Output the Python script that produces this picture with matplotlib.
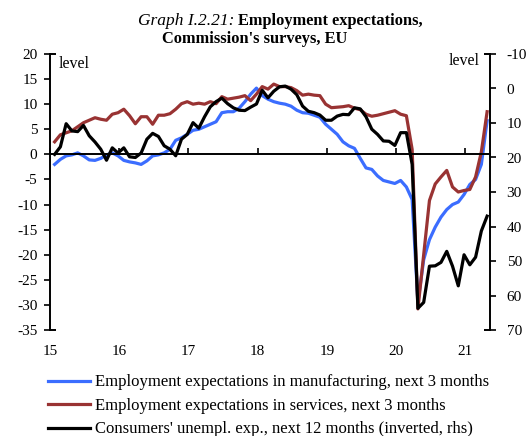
import numpy as np
import matplotlib
matplotlib.use("Agg")
import matplotlib.pyplot as plt
from matplotlib.ticker import FuncFormatter

plt.rcParams['font.family'] = ['Liberation Serif', 'DejaVu Serif']

# Monthly data Jan 2015 - Apr 2021
manufacturing = [-2.0, -1.0, -0.3, -0.1, 0.3, -0.3, -1.1, -1.2, -0.8, -0.1, 0.3, -0.3,
                 -1.2, -1.5, -1.7, -2.0, -1.3, -0.3, -0.1, 0.3, 1.0, 2.8, 3.3, 4.0,
                 4.8, 5.0, 5.5, 6.0, 6.5, 8.3, 8.5, 8.5, 9.2, 10.5, 12.0, 13.2,
                 11.7, 11.0, 10.5, 10.2, 10.0, 9.6, 8.8, 8.3, 8.2, 7.8, 7.4, 6.0,
                 5.0, 4.0, 2.5, 1.7, 1.2, -0.8, -2.7, -3.0, -4.3, -5.2, -5.5, -5.8,
                 -5.2, -6.5, -9.0, -29.5, -21.0, -17.0, -14.5, -12.5, -11.0, -10.0, -9.5, -8.0,
                 -6.0, -5.0, -2.0, 6.7]
services = [2.5, 3.9, 4.3, 4.7, 5.5, 6.3, 6.8, 7.3, 7.0, 6.8, 8.0, 8.3,
            9.0, 7.7, 6.1, 7.5, 7.5, 6.0, 7.8, 7.8, 8.1, 9.0, 10.1, 10.5,
            10.0, 10.2, 10.0, 10.5, 10.1, 11.5, 11.0, 11.2, 11.4, 11.7, 10.7, 12.0,
            13.5, 13.0, 14.0, 13.5, 13.5, 13.3, 12.7, 11.8, 12.0, 11.8, 11.7, 10.0,
            9.3, 9.4, 9.5, 9.7, 9.2, 8.9, 8.0, 7.6, 7.8, 8.1, 8.4, 8.7,
            8.0, 7.7, 1.0, -30.8, -20.0, -9.2, -5.9, -4.5, -3.2, -6.5, -7.5, -7.2,
            -7.0, -4.5, 0.5, 8.5]
consumers = [19.1, 16.9, 10.2, 12.3, 12.5, 10.7, 13.7, 15.5, 17.6, 20.8, 17.2, 18.7,
             17.2, 19.8, 20.0, 18.7, 14.7, 13.0, 13.9, 16.6, 17.6, 19.5, 14.7, 13.3,
             9.9, 11.5, 8.2, 5.3, 3.8, 2.8, 4.4, 5.6, 6.3, 6.4, 5.4, 4.5,
             0.5, 2.7, 0.8, -0.5, -0.7, 0.2, 1.8, 5.1, 6.6, 7.0, 7.7, 9.2,
             9.2, 8.0, 7.5, 7.6, 5.6, 5.9, 8.2, 11.8, 13.3, 15.2, 15.3, 16.5,
             12.8, 12.8, 22.0, 63.7, 62.0, 51.5, 51.4, 50.4, 47.2, 51.5, 57.2, 48.2,
             51.1, 48.9, 41.3, 37.0]
year_labels = ['15', '16', '17', '18', '19', '20', '21']

labels = ['Employment expectations in manufacturing, next 3 months',
          'Employment expectations in services, next 3 months',
          "Consumers' unempl. exp., next 12 months (inverted, rhs)"]
c_blue = '#3b6dff'
c_red = '#993333'
c_black = '#000000'

W, H = 531, 436
fig = plt.figure(figsize=(W / 100, H / 100), dpi=100)
ax = fig.add_axes([50 / W, 1 - 330 / H, 440 / W, 276 / H])
ax2 = ax.twinx()

n = len(manufacturing)
x = np.arange(n) + 0.8

l1, = ax.plot(x, manufacturing, color=c_blue, lw=2.3, solid_joinstyle='round')
l2, = ax.plot(x, services, color=c_red, lw=2.3, solid_joinstyle='round')
l3, = ax2.plot(x, consumers, color=c_black, lw=2.3, solid_joinstyle='round')
ax2.set_zorder(ax.get_zorder() + 1)
ax2.patch.set_visible(False)

ax.set_xlim(0, 76.3)
ax.set_ylim(-35, 20)
ax2.set_ylim(70, -10)
ax.set_yticks(np.arange(-35, 21, 5))
ax2.set_yticks(np.arange(-10, 71, 10))
fmt = FuncFormatter(lambda v, p: ('%d' % v).replace('\u2212', '-'))
ax.yaxis.set_major_formatter(fmt)
ax2.yaxis.set_major_formatter(fmt)

for a in (ax, ax2):
    a.spines['top'].set_visible(False)
    a.spines['bottom'].set_visible(False)
ax.spines['right'].set_visible(False)
ax2.spines['left'].set_visible(False)
ax.spines['left'].set_linewidth(1.4)
ax2.spines['right'].set_linewidth(1.4)

ax.tick_params(axis='y', direction='out', length=4, width=1.2, labelsize=11, pad=5)
ax2.tick_params(axis='y', direction='out', length=4, width=1.2, labelsize=11, pad=8)

# zero line with year ticks
ax.spines['bottom'].set_visible(True)
ax.spines['bottom'].set_position(('data', 0))
ax.spines['bottom'].set_linewidth(1.4)
ax.set_xticks(np.arange(0, 73, 12))
ax.tick_params(axis='x', direction='in', length=4, width=1.2, labelbottom=False)

sec = ax.secondary_xaxis('bottom')
sec.spines['bottom'].set_visible(False)
sec.set_xticks(np.arange(0, 73, 12))
sec.set_xticklabels(year_labels)
sec.tick_params(axis='x', length=0, pad=11, labelsize=11)

# bracket caps at spine ends
for xa, dx in ((0.0, 1), (1.0, -1)):
    for ya in (0.0, 1.0):
        ax.plot([xa, xa + dx * 6 / 440], [ya, ya], transform=ax.transAxes,
                color='black', lw=1.4, clip_on=False, solid_capstyle='butt')

ax.text(9 / 440, 1 - 10 / 276, 'level', transform=ax.transAxes, fontsize=11.5,
        ha='left', va='center')
ax.text(1 - 10 / 440, 1 - 7 / 276, 'level', transform=ax.transAxes, fontsize=11.5,
        ha='right', va='center')

fig.text(234 / W, 1 - 21 / H, 'Graph I.2.21:', style='italic', fontsize=12.5,
         ha='right', va='center')
fig.text(238 / W, 1 - 21 / H, 'Employment expectations,', weight='bold', fontsize=11.8,
         ha='left', va='center')
fig.text(255 / W, 1 - 39 / H, "Commission's surveys, EU", weight='bold', fontsize=11.8,
         ha='center', va='center')

fig.legend([l1, l2, l3], labels, loc='upper left', bbox_to_anchor=(45 / W, 1 - 371 / H),
           frameon=False, fontsize=12, handlelength=2.5, handletextpad=0.3,
           labelspacing=0.45, borderaxespad=0, borderpad=0.2)

fig.savefig('out.png', dpi=100)
